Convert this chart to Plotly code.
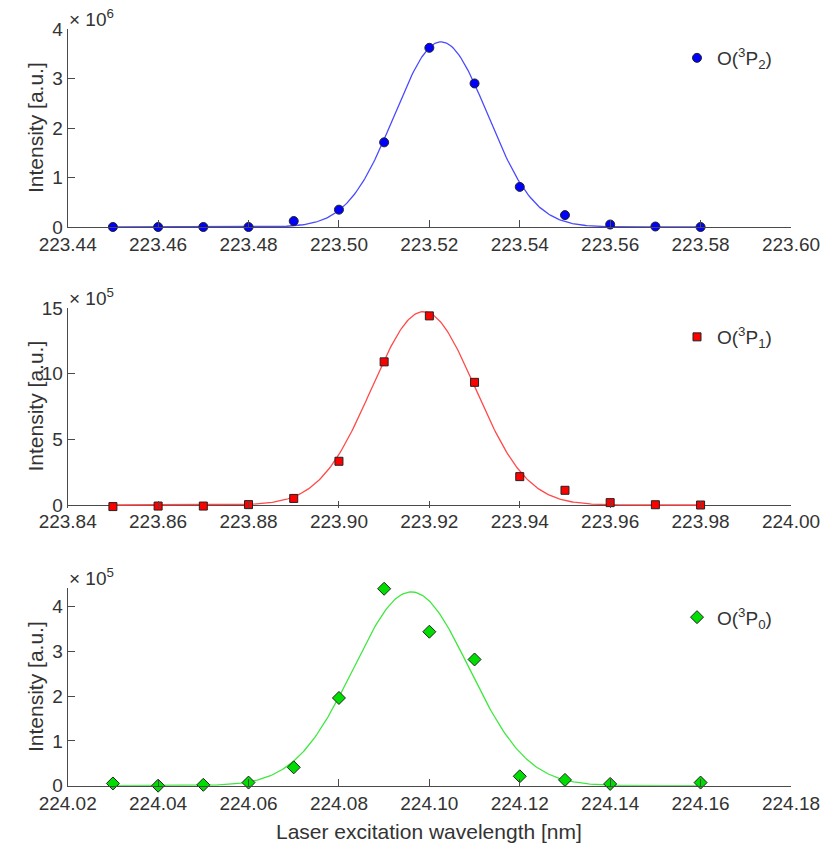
import numpy as np
import plotly.graph_objects as go

# ---- measured spectra (wavelength in nm, intensity in a.u.) ----
wl_p2 = [223.45, 223.46, 223.47, 223.48, 223.49, 223.50, 223.51,
         223.52, 223.53, 223.54, 223.55, 223.56, 223.57, 223.58]
int_p2 = [0.0, 0.0, 0.0, 0.0, 0.12e6, 0.35e6, 1.71e6,
          3.62e6, 2.90e6, 0.81e6, 0.24e6, 0.05e6, 0.01e6, 0.0]

wl_p1 = [223.85, 223.86, 223.87, 223.88, 223.89, 223.90, 223.91,
         223.92, 223.93, 223.94, 223.95, 223.96, 223.97, 223.98]
int_p1 = [-0.12e5, -0.08e5, -0.08e5, 0.03e5, 0.5e5, 3.33e5, 10.9e5,
          14.4e5, 9.34e5, 2.16e5, 1.12e5, 0.18e5, 0.02e5, 0.0]

wl_p0 = [224.03, 224.04, 224.05, 224.06, 224.07, 224.08, 224.09,
         224.10, 224.11, 224.12, 224.13, 224.14, 224.16]
int_p0 = [0.05e5, 0.0, 0.02e5, 0.07e5, 0.41e5, 1.96e5, 4.40e5,
          3.44e5, 2.82e5, 0.21e5, 0.13e5, 0.04e5, 0.07e5]

# ---- Gaussian fit parameters: amplitude, centre, sigma ----
fit_p2 = (3.74e6, 223.5226, 0.0103)
fit_p1 = (14.72e5, 223.9187, 0.01142)
fit_p0 = (4.33e5, 224.0960, 0.0128)

# ---- axis settings ----
xranges = [(223.44, 223.60), (223.84, 224.00), (224.02, 224.18)]
ytops = [4e6, 15e5, 4.41e5]
yfloors = [0, -0.2e5, 0]          # small headroom below zero for slightly negative points
yticks = [[0, 1e6, 2e6, 3e6, 4e6], [0, 5e5, 10e5, 15e5], [0, 1e5, 2e5, 3e5, 4e5]]
ytick_text = [["0", "1", "2", "3", "4"], ["0", "5", "10", "15"], ["0", "1", "2", "3", "4"]]
exponents = ["6", "5", "5"]
legend_names = ["O(<sup>3</sup>P<sub>2</sub>)", "O(<sup>3</sup>P<sub>1</sub>)",
                "O(<sup>3</sup>P<sub>0</sub>)"]

W, H = 825, 853
FONT = "Liberation Sans, Arial, sans-serif"
INK = "#333333"
AX = "#4a4a4a"

# panel boxes in pixels: (left, right, top, zero line)
boxes = [(67.7, 791, 29, 227), (67.7, 791, 308, 505), (67.7, 791, 588.3, 785.7)]

series = [
    (wl_p2, int_p2, fit_p2, "circle", "#0000ff", "#4a4aff", 9),
    (wl_p1, int_p1, fit_p1, "square", "#ff0000", "#ff4a4a", 8),
    (wl_p0, int_p0, fit_p0, "diamond", "#00dd00", "#3ee83e", 10),
]

fig = go.Figure()
layout = dict(
    width=W, height=H,
    margin=dict(l=0, r=0, t=0, b=0),
    paper_bgcolor="white", plot_bgcolor="white",
    font=dict(family=FONT, size=19, color=INK),
    annotations=[],
)

for i, (wx, wy, fit, sym, mcol, lcol, msz) in enumerate(series):
    n = "" if i == 0 else str(i + 1)
    xa, ya = "x" + n, "y" + n
    leg = "legend" + n
    A, x0, s = fit
    xf = np.linspace(min(wx), max(wx), 400)
    yf = A * np.exp(-((xf - x0) ** 2) / (2 * s ** 2))
    fig.add_trace(go.Scatter(x=xf, y=yf, mode="lines", xaxis=xa, yaxis=ya,
                             line=dict(color=lcol, width=1.3),
                             showlegend=False, hoverinfo="skip"))
    fig.add_trace(go.Scatter(x=wx, y=wy, mode="markers", xaxis=xa, yaxis=ya,
                             name=legend_names[i], legend=leg, cliponaxis=False,
                             marker=dict(symbol=sym, size=msz, color=mcol,
                                         line=dict(color="#222222", width=1))))

    l, r, t, z = boxes[i]
    lo, hi = yfloors[i], ytops[i]
    px_per_unit = (z - t) / hi
    b = z + (-lo) * px_per_unit          # bottom edge of the plotting box
    common = dict(showgrid=False, showline=True, linecolor=AX,
                  linewidth=1, ticks="inside", ticklen=7, tickcolor=AX,
                  tickfont=dict(family=FONT, size=19, color=INK), mirror=False,
                  automargin=False)
    below_zero = lo < 0
    layout["xaxis" + n] = dict(domain=[l / W, r / W], range=list(xranges[i]),
                              anchor=ya, dtick=0.02, tick0=xranges[i][0],
                              tickformat=".2f", zeroline=False, **common)
    layout["yaxis" + n] = dict(domain=[1 - b / H, 1 - t / H], range=[lo, hi],
                              anchor=xa, tickvals=yticks[i], ticktext=ytick_text[i],
                              zeroline=below_zero, zerolinecolor=AX, zerolinewidth=1,
                              **common)
    if below_zero:
        layout["xaxis" + n]["showline"] = False
    layout[leg] = dict(x=677 / W, y=1 - (t + 10) / H, xanchor="left", yanchor="top",
                       bgcolor="rgba(0,0,0,0)", borderwidth=0,
                       font=dict(family=FONT, size=19, color=INK))
    # exponent label and y-axis title
    layout["annotations"].append(dict(
        text="× 10<sup>" + exponents[i] + "</sup>", xref="paper", yref="paper",
        x=67 / W, y=1 - (t - 11) / H, xanchor="left", yanchor="middle",
        showarrow=False, font=dict(family=FONT, size=19, color=INK)))
    layout["annotations"].append(dict(
        text="Intensity [a.u.]", xref="paper", yref="paper",
        x=35 / W, y=1 - ((t + z) / 2) / H, xanchor="center", yanchor="middle",
        textangle=-90, showarrow=False, font=dict(family=FONT, size=21, color=INK)))

layout["annotations"].append(dict(
    text="Laser excitation wavelength [nm]", xref="paper", yref="paper",
    x=429 / W, y=1 - 831 / H, xanchor="center", yanchor="middle",
    showarrow=False, font=dict(family=FONT, size=21, color=INK)))

fig.update_layout(**layout)
fig.write_html("out.html")
